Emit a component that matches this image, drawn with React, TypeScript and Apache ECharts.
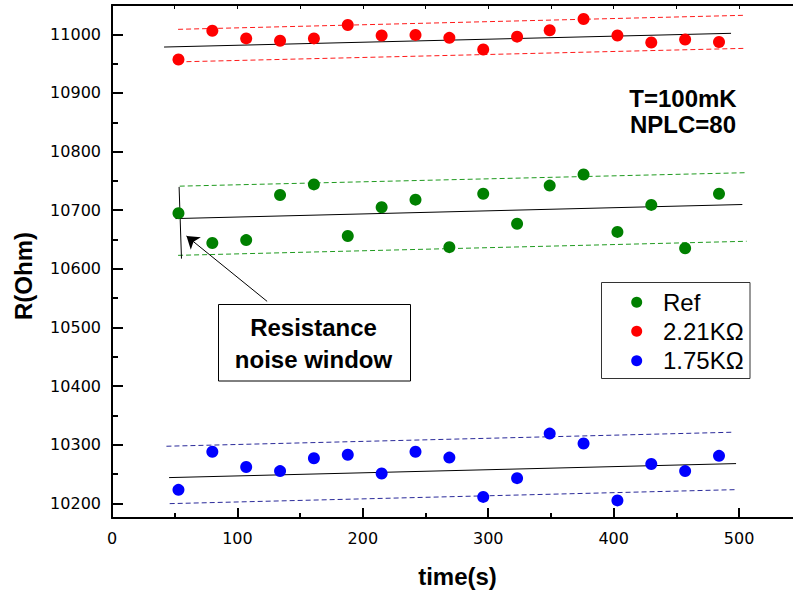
import React, { useEffect, useRef } from "react";
import * as echarts from "echarts";

// ---- data ----
const times = [53, 80, 107, 134, 161, 188, 215, 242, 269, 296, 323, 349, 376, 403, 430, 457, 484];
const refValues = [10695, 10644, 10649, 10726, 10744, 10656, 10705, 10718, 10637, 10728, 10677, 10742, 10761, 10663, 10709, 10635, 10728];
const r221Values = [10957, 11006, 10993, 10989, 10993, 11016, 10998, 10999, 10994, 10974, 10996, 11007, 11026, 10998, 10986, 10991, 10987];
const r175Values = [10223, 10288, 10262, 10255, 10277, 10283, 10251, 10288, 10278, 10211, 10243, 10319, 10302, 10205, 10267, 10255, 10281];

const seriesNames = ["Ref", "2.21KΩ", "1.75KΩ"];
const seriesColors = ["#008000", "#ff0000", "#0000ff"];
const boundColors = ["#1f9a1f", "#ff1a1a", "#2a2a9a"];

// linear fits (end points) and noise bounds
const refFit = [[50.6, 10685.7], [502.6, 10709.7]];
const r221Fit = [[41.5, 10978.3], [493.6, 11001.7]];
const r175Fit = [[45.5, 10243.9], [497.6, 10267.8]];
const refUpper = [[54, 10741], [506, 10764]];
const refLower = [[52.7, 10623], [506, 10647]];
const r221Upper = [[52.7, 11008.5], [503.4, 11032.4]];
const r221Lower = [[53, 10953], [503.4, 10976]];
const r175Upper = [[43.4, 10297.4], [495, 10321.3]];
const r175Lower = [[46, 10199.5], [498, 10223.4]];
const windowBracket = [[53.5, 10739.7], [55.4, 10617.4]];
const arrowFrom = [123.7, 10544.5];
const arrowTo = [59.4, 10656];

// axis ticks
const xMajorTicks = [0, 100, 200, 300, 400, 500];
const xMinorTicks = [50, 150, 250, 350, 450];
const xTopTicks = [50, 100, 150, 200, 250, 300, 350, 400, 450, 500];
const yMajorTicks = [10200, 10300, 10400, 10500, 10600, 10700, 10800, 10900, 11000];
const yMinorTicks = [10250, 10350, 10450, 10550, 10650, 10750, 10850, 10950];

const X_MIN = 0;
const X_MAX = 543;
const Y_MIN = 10175;
const Y_MAX = 11050;

const TICK_FONT = "DejaVu Sans, Verdana, sans-serif";
const TEXT_FONT = "Liberation Sans, Arial, Helvetica, sans-serif";

// legend box layout (pixels)
const LEGEND_BOX = { x: 601.5, y: 282.5, width: 148.5, height: 96 };
const LEGEND_ICON_X = 636.7;
const LEGEND_TEXT_X = 663;
const LEGEND_ROWS_Y = [302.3, 331.3, 360.7];

export default function App() {
  const ref = useRef<HTMLDivElement>(null);

  useEffect(() => {
    if (!ref.current) return;
    const chart = echarts.init(ref.current, undefined, { renderer: "svg" });

    const axisLine = { show: true, onZero: false, lineStyle: { color: "#000", width: 2 } };
    const tickLine = { color: "#000", width: 2 };
    const plainLabel = (v: number) => String(v);

    const pts = (vals: number[]) => times.map((t, i) => [t, vals[i]]);
    const scatter = (idx: number, vals: number[]) => ({
      name: seriesNames[idx],
      type: "scatter",
      data: pts(vals),
      symbol: "circle",
      symbolSize: 12,
      itemStyle: { color: seriesColors[idx], opacity: 1 },
      z: 5,
      silent: true,
    });
    const fitLine = (data: number[][]) => ({
      type: "line",
      data,
      symbol: "none",
      showSymbol: false,
      lineStyle: { color: "#000", width: 1 },
      z: 2,
      silent: true,
    });
    const bound = (data: number[][], color: string) => ({
      type: "line",
      data,
      symbol: "none",
      showSymbol: false,
      lineStyle: { color, width: 1, type: [5, 3] },
      z: 2,
      silent: true,
    });

    const boldText = (text: string, x: number, y: number, lineHeight?: number, rotation?: number) => ({
      type: "text",
      x,
      y,
      rotation: rotation || 0,
      z: 11,
      style: {
        text,
        fontFamily: TEXT_FONT,
        fontWeight: "bold",
        fontSize: 24,
        lineHeight: lineHeight || 28,
        fill: "#000",
        align: "center",
        verticalAlign: "middle",
      },
    });

    const legendGraphics: any[] = [
      {
        type: "rect",
        shape: LEGEND_BOX,
        style: { fill: "#fff", stroke: "#333", lineWidth: 1 },
        z: 10,
      },
    ];
    seriesNames.forEach((name, i) => {
      legendGraphics.push({
        type: "circle",
        shape: { cx: LEGEND_ICON_X, cy: LEGEND_ROWS_Y[i], r: 5.5 },
        style: { fill: seriesColors[i] },
        z: 11,
      });
      legendGraphics.push({
        type: "text",
        x: LEGEND_TEXT_X,
        y: LEGEND_ROWS_Y[i],
        z: 11,
        style: {
          text: name,
          fontFamily: TEXT_FONT,
          fontSize: 24,
          fill: "#000",
          align: "left",
          verticalAlign: "middle",
        },
      });
    });

    chart.setOption({
      animation: false,
      backgroundColor: "#fff",
      grid: { left: 112, top: 5, right: 0, bottom: 73 },
      xAxis: [
        {
          type: "value",
          position: "bottom",
          min: X_MIN,
          max: X_MAX,
          interval: 100,
          axisLine,
          axisTick: { show: true, inside: true, length: 10, customValues: xMajorTicks, lineStyle: tickLine },
          axisLabel: { customValues: xMajorTicks, margin: 12, color: "#000", fontFamily: TICK_FONT, fontSize: 16, formatter: plainLabel },
          splitLine: { show: false },
        },
        {
          type: "value",
          position: "bottom",
          min: X_MIN,
          max: X_MAX,
          axisLine: { show: false, onZero: false },
          axisTick: { show: true, inside: true, length: 5, customValues: xMinorTicks, lineStyle: tickLine },
          axisLabel: { show: false },
          splitLine: { show: false },
        },
        {
          type: "value",
          position: "top",
          min: X_MIN,
          max: X_MAX,
          axisLine,
          axisTick: { show: true, inside: true, length: 4, customValues: xTopTicks, lineStyle: { color: "#000", width: 1 } },
          axisLabel: { show: false },
          splitLine: { show: false },
        },
      ],
      yAxis: [
        {
          type: "value",
          position: "left",
          min: Y_MIN,
          max: Y_MAX,
          axisLine,
          axisTick: { show: true, inside: true, length: 11, customValues: yMajorTicks, lineStyle: tickLine },
          axisLabel: { customValues: yMajorTicks, margin: 11, color: "#000", fontFamily: TICK_FONT, fontSize: 16, formatter: plainLabel },
          splitLine: { show: false },
        },
        {
          type: "value",
          position: "left",
          min: Y_MIN,
          max: Y_MAX,
          axisLine: { show: false, onZero: false },
          axisTick: { show: true, inside: true, length: 6, customValues: yMinorTicks, lineStyle: tickLine },
          axisLabel: { show: false },
          splitLine: { show: false },
        },
      ],
      series: [
        bound(refUpper, boundColors[0]),
        bound(refLower, boundColors[0]),
        bound(r221Upper, boundColors[1]),
        bound(r221Lower, boundColors[1]),
        bound(r175Upper, boundColors[2]),
        bound(r175Lower, boundColors[2]),
        fitLine(refFit),
        fitLine(r221Fit),
        fitLine(r175Fit),
        {
          ...fitLine(windowBracket),
          markLine: {
            silent: true,
            symbol: ["none", "arrow"],
            symbolSize: 12,
            label: { show: false },
            lineStyle: { color: "#000", width: 1, type: "solid" },
            itemStyle: { color: "#000" },
            data: [[{ coord: arrowFrom }, { coord: arrowTo }]],
          },
        },
        scatter(0, refValues),
        scatter(1, r221Values),
        scatter(2, r175Values),
      ],
      graphic: [
        {
          type: "rect",
          shape: { x: 218.5, y: 304.5, width: 192, height: 76.5 },
          style: { fill: "#fff", stroke: "#000", lineWidth: 1 },
          z: 10,
        },
        boldText("Resistance\nnoise window", 313.5, 343.6, 31.3),
        boldText("T=100mK\nNPLC=80", 683, 111.2, 26.3),
        boldText("R(Ohm)", 23, 276, 28, Math.PI / 2),
        boldText("time(s)", 457.5, 576),
        ...legendGraphics,
      ],
    });

    return () => chart.dispose();
  }, []);

  return (
    <div
      ref={ref}
      style={{ position: "fixed", left: 0, top: 0, width: 793, height: 591, background: "#fff" }}
    />
  );
}
